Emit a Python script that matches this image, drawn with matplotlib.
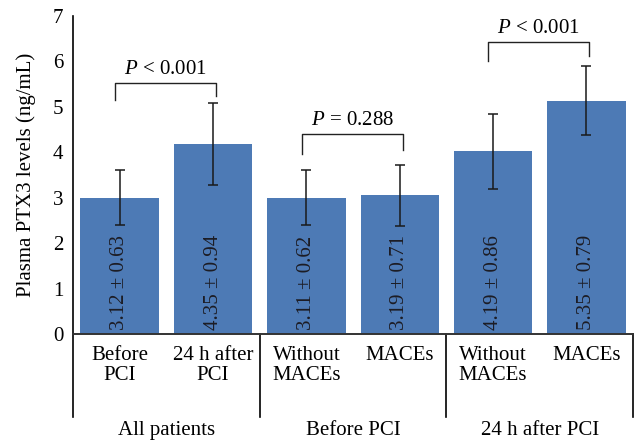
import matplotlib.pyplot as plt
import numpy as np

plt.rcParams['font.family'] = ['Liberation Serif', 'DejaVu Serif']
plt.rcParams['mathtext.fontset'] = 'custom'
plt.rcParams['mathtext.rm'] = 'Liberation Serif'
plt.rcParams['mathtext.it'] = 'Liberation Serif:italic'

# data
categories = ['Before\nPCI', '24 h after\nPCI', 'Without\nMACEs', 'MACEs', 'Without\nMACEs', 'MACEs']
groups = ['All patients', 'Before PCI', '24 h after PCI']
heights = [3.0, 4.18, 3.0, 3.05, 4.02, 5.14]
errors = [0.6, 0.9, 0.6, 0.68, 0.83, 0.77]
bar_labels = ['3.12 ± 0.63', '4.35 ± 0.94', '3.11 ± 0.62', '3.19 ± 0.71', '4.19 ± 0.86', '5.35 ± 0.79']

# significance brackets: (left bar, right bar, top, left foot, right foot, text)
brackets = [
    (0, 1, 5.52, 5.16, 5.25, r'$P$ < 0.001'),
    (2, 3, 4.40, 3.96, 4.04, r'$P$ = 0.288'),
    (4, 5, 6.42, 6.00, 6.13, r'$P$ < 0.001'),
]

FS = 15

fig = plt.figure(figsize=(6.35, 4.42), dpi=100)
ax = fig.add_axes([0.115, 0.2443, 0.882, 0.7195])

x = np.arange(len(heights))
ax.bar(x, heights, width=0.84, color='#4d7ab5', zorder=2)
ax.errorbar(x, heights, yerr=errors, fmt='none', ecolor='#1a1a1a',
            elinewidth=1.1, capsize=3.5, capthick=1.1, zorder=3)

for xi, lab in zip(x, bar_labels):
    ax.text(xi, 0.08, lab, rotation=90, ha='center', va='bottom',
            fontsize=FS, color='#1c1c24', zorder=4)

for i, j, top, lf, rf, txt in brackets:
    xl, xr = i - 0.05, j + 0.03
    ax.plot([xl, xl, xr, xr], [lf, top, top, rf], color='#222222', lw=1.0)
    ax.text((xl + xr) / 2, top + 0.1, txt, ha='center', va='bottom', fontsize=FS)

ax.set_xlim(-0.5, 5.5)
ax.set_ylim(0, 7)
ax.set_yticks(range(8))
ax.set_xticks(x)
ax.set_xticklabels(categories, linespacing=1.05)
ax.tick_params(axis='both', length=0, labelsize=FS)
ax.tick_params(axis='y', pad=7)
ax.tick_params(axis='x', pad=8.5)
ax.set_ylabel('Plasma PTX3 levels (ng/mL)', fontsize=FS)
ax.yaxis.set_label_coords(-0.066, 0.5)

for s in ['top', 'right']:
    ax.spines[s].set_visible(False)
ax.spines['left'].set_linewidth(1.2)
ax.spines['bottom'].set_linewidth(1.4)
ax.spines['bottom'].set_color('#333333')

# group dividers and labels below the axis
trans = ax.get_xaxis_transform()
for xd in [-0.5, 1.5, 3.5, 5.5]:
    ax.plot([xd, xd], [0, -0.261], transform=trans, color='black', lw=1.2, clip_on=False)
for k, g in enumerate(groups):
    ax.text(2 * k + 0.5, -0.302, g, transform=trans, ha='center', va='center', fontsize=FS)

fig.savefig('out.png', dpi=100)
